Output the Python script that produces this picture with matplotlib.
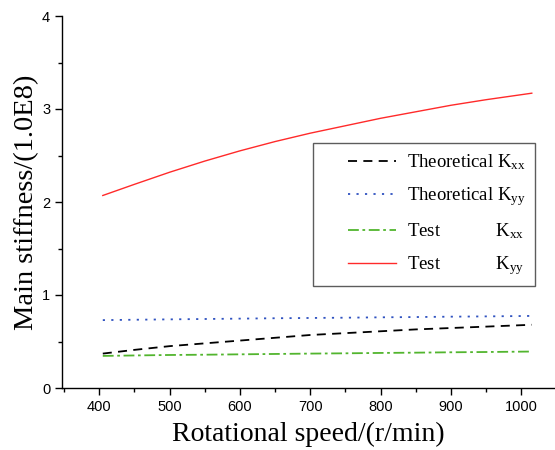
import matplotlib
matplotlib.use('Agg')
import matplotlib.pyplot as plt
from matplotlib.ticker import MultipleLocator

# values
speed = [405, 450, 500, 550, 600, 650, 700, 750, 800, 850, 900, 950, 1015]
theo_kxx = [0.37, 0.41, 0.45, 0.48, 0.51, 0.54, 0.57, 0.59, 0.61, 0.63, 0.645, 0.66, 0.68]
theo_kyy = [0.730, 0.734, 0.738, 0.742, 0.746, 0.750, 0.753, 0.756, 0.760, 0.763, 0.767, 0.770, 0.775]
test_kxx = [0.345, 0.350, 0.355, 0.358, 0.362, 0.366, 0.370, 0.373, 0.377, 0.380, 0.384, 0.387, 0.392]
test_kyy = [2.07, 2.19, 2.32, 2.44, 2.55, 2.65, 2.74, 2.82, 2.90, 2.97, 3.04, 3.10, 3.17]

labels = ['Theoretical K$_{\\rm xx}$', 'Theoretical K$_{\\rm yy}$',
          'Test' + ' ' * 12 + 'K$_{\\rm xx}$', 'Test' + ' ' * 12 + 'K$_{\\rm yy}$']

plt.rcParams['mathtext.fontset'] = 'custom'
plt.rcParams['mathtext.rm'] = 'Liberation Serif'
plt.rcParams['mathtext.it'] = 'Liberation Serif:italic'

fig = plt.figure(figsize=(5.55, 4.5), dpi=100)
ax = fig.add_axes([62 / 555, 62 / 450, 493 / 555, 372 / 450])

ax.plot(speed, theo_kxx, color='black', lw=1.3, dashes=(5, 3.5), label=labels[0])
ax.plot(speed, theo_kyy, color='#2f52c0', lw=1.3, dashes=(1.2, 3.5), label=labels[1])
ax.plot(speed, test_kxx, color='#52b52e', lw=1.3, dashes=(6, 2, 1.5, 2), label=labels[2])
ax.plot(speed, test_kyy, color='#ff2a2a', lw=1.0, label=labels[3])

ax.set_xlim(347, 1048)
ax.set_ylim(0, 4)
ax.set_xticks(range(400, 1001, 100))
ax.xaxis.set_minor_locator(MultipleLocator(50))
ax.yaxis.set_major_locator(MultipleLocator(1))
ax.yaxis.set_minor_locator(MultipleLocator(0.5))

for s in ['top', 'right']:
    ax.spines[s].set_visible(False)
for s in ['left', 'bottom']:
    ax.spines[s].set_linewidth(1.0)

ax.tick_params(which='major', direction='out', length=5, width=1.0, labelsize=10.5)
ax.tick_params(which='minor', direction='out', length=3, width=1.0)
for lab in ax.get_xticklabels() + ax.get_yticklabels():
    lab.set_fontfamily('Liberation Sans')

ax.set_xlabel('Rotational speed/(r/min)', fontfamily='Liberation Serif', fontsize=20, labelpad=5.5)
ax.set_ylabel('Main stiffness/(1.0E8)', fontfamily='Liberation Serif', fontsize=20.5, labelpad=2)

leg = ax.legend(loc='upper left', bbox_to_anchor=(313 / 555, 1 - 143 / 450),
                bbox_transform=fig.transFigure, frameon=True, fancybox=False,
                prop={'family': 'Liberation Serif', 'size': 13.5},
                handlelength=3.9, handletextpad=0.6, labelspacing=0.7,
                borderpad=0.5, borderaxespad=0)
leg.get_frame().set_edgecolor('#333333')
leg.get_frame().set_linewidth(1.0)

# legend lines only fill the right part of the handle box (~48 px = 34.5 pt)
for h in leg.legend_handles:
    xd = list(h.get_xdata())
    x1 = max(xd)
    h.set_xdata([x1 - 34.5, x1])
    h.set_ydata([h.get_ydata()[0]] * 2)

fig.savefig('out.png', dpi=100)
